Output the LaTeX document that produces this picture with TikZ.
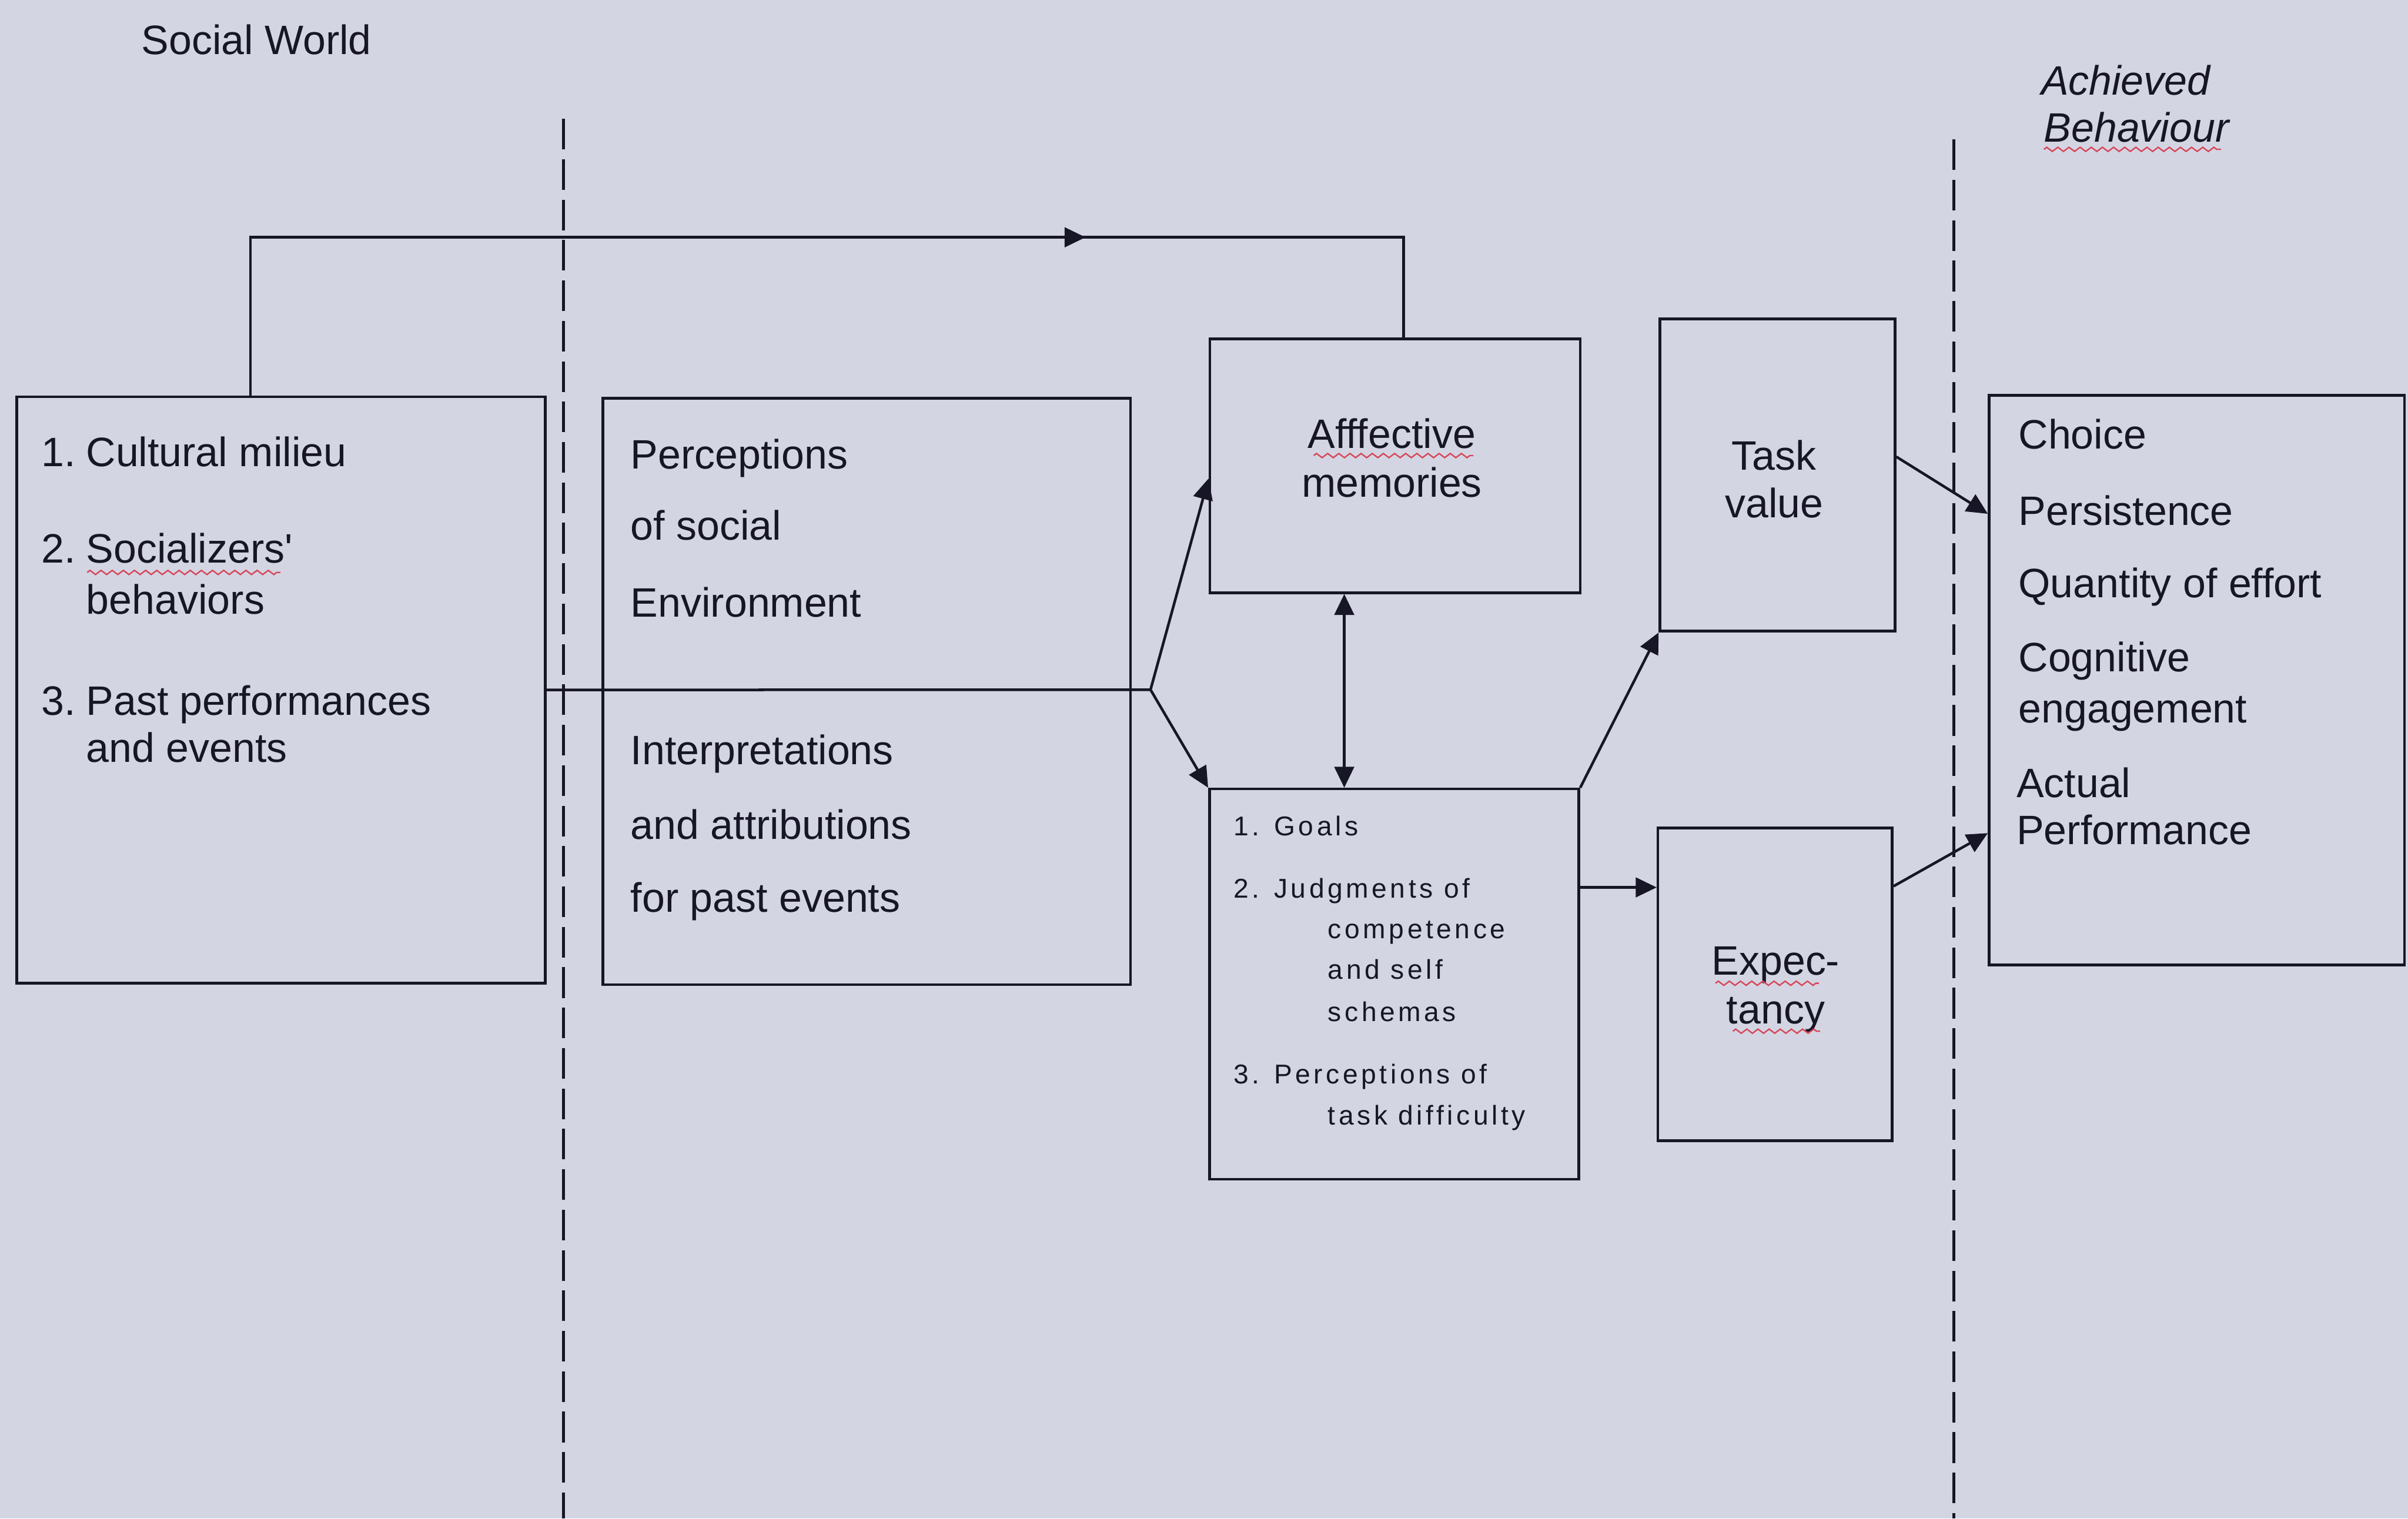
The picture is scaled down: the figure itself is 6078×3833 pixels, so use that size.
\documentclass[tikz,border=0pt]{standalone}
\usepackage{fontspec}
\setmainfont{Liberation Sans}
\usetikzlibrary{arrows.meta,calc,decorations.pathmorphing}
\definecolor{bg}{RGB}{212,213,226}
\definecolor{ink}{RGB}{22,22,38}
\definecolor{spellred}{RGB}{214,70,90}
\newcommand\numlbl[1]{\makebox[32pt][l]{#1}}
\newcommand\numlblD[1]{\makebox[29pt][l]{#1}}
\begin{document}
\begin{tikzpicture}[x=0.01cm,y=-0.01cm,
  box/.style={draw=ink, line width=1.9pt, rectangle, inner sep=0pt},
  conn/.style={draw=ink, line width=1.9pt},
  arr/.style={conn, -{Triangle[length=15pt,width=14pt]}},
  darr/.style={conn, {Triangle[length=15pt,width=14pt]}-{Triangle[length=15pt,width=14pt]}},
  divider/.style={draw=ink, line width=1.9pt, dash pattern=on 22pt off 7pt},
  lbl/.style={text=ink, inner sep=0pt, outer sep=0pt, anchor=base west, font=\fontsize{29.5}{35}\selectfont},
  lblc/.style={lbl, anchor=base},
  lbli/.style={lbl, font=\fontsize{29.5}{35}\selectfont\itshape},
  lbls/.style={lbl, font=\fontsize{19.5}{23}\selectfont\addfontfeature{LetterSpace=12}},
  spell/.style={draw=spellred, line width=1pt, decorate, decoration={zigzag, segment length=8pt, amplitude=1.5pt}}
]
% background / bounding box
\fill[bg] (0,0) rectangle (6078,3833);
\useasboundingbox (0,0) rectangle (6078,3833);

% dividers
\coordinate (d1t) at (1422,300);
\coordinate (d1b) at (1422,3833);
\coordinate (d2t) at (4932,352);
\coordinate (d2b) at (4932,3833);
\draw[divider] (d1t) -- (d1b);
\draw[divider] (d2t) -- (d2b);

% headings
\node[lbl] (hsw) at (357,138) {Social World};
\node[lbli] (hab1) at (5152,239) {Achieved};
\node[lbli] (hab2) at (5159,358) {Behaviour};

% boxes
\node[box, minimum width=13.33cm, minimum height=14.79cm] (A) at (709.5,1741.5) {};
\node[box, minimum width=13.31cm, minimum height=14.79cm] (B) at (2187.5,1745.5) {};
\node[box, minimum width=9.34cm, minimum height=6.40cm] (C) at (3521,1176) {};
\node[box, minimum width=9.32cm, minimum height=9.84cm] (D) at (3519,2484) {};
\node[box, minimum width=5.93cm, minimum height=7.88cm] (E) at (4486.5,1199) {};
\node[box, minimum width=5.91cm, minimum height=7.89cm] (F) at (4480.5,2484.5) {};
\node[box, minimum width=10.48cm, minimum height=14.37cm] (G) at (5545,1716.5) {};

% box A text
\node[lbl] (a1) at (105,1177) {\numlbl{1.}Cultural milieu};
\node[lbl] (a2) at (105,1421) {\numlbl{2.}Socializers\textquotesingle};
\node[lbl] (a3) at (218,1550) {behaviors};
\node[lbl] (a4) at (105,1805) {\numlbl{3.}Past performances};
\node[lbl] (a5) at (218,1924) {and events};

% box B text
\node[lbl] (b1) at (1592,1183) {Perceptions};
\node[lbl] (b2) at (1592,1363) {of social};
\node[lbl] (b3) at (1592,1557) {Environment};
\node[lbl] (b4) at (1592,1930) {Interpretations};
\node[lbl] (b5) at (1592,2118) {and attributions};
\node[lbl] (b6) at (1592,2302) {for past events};

% box C text
\node[lblc] (c1) at (3513,1131) {Afffective};
\node[lblc] (c2) at (3513,1254) {memories};

% box D text
\node[lbls] (d1) at (3114,2109) {\numlblD{1.}Goals};
\node[lbls] (d2) at (3114,2267) {\numlblD{2.}Judgments of};
\node[lbls] (d3) at (3352,2369) {competence};
\node[lbls] (d4) at (3352,2472) {and self};
\node[lbls] (d5) at (3352,2578) {schemas};
\node[lbls] (d6) at (3114,2736) {\numlblD{3.}Perceptions of};
\node[lbls] (d7) at (3352,2839) {task difficulty};

% box E text
\node[lblc] (e1) at (4478,1186) {Task};
\node[lblc] (e2) at (4478,1306) {value};

% box F text
\node[lblc] (f1) at (4482,2461) {Expec-};
\node[lblc] (f2) at (4482,2584) {tancy};

% box G text
\node[lbl] (g1) at (5095,1133) {Choice};
\node[lbl] (g2) at (5095,1326) {Persistence};
\node[lbl] (g3) at (5095,1508) {Quantity of effort};
\node[lbl] (g4) at (5095,1696) {Cognitive};
\node[lbl] (g5) at (5095,1825) {engagement};
\node[lbl] (g6) at (5090,2013) {Actual};
\node[lbl] (g7) at (5090,2131) {Performance};

% spell-check underlines
\draw[spell] (220,1445) -- (708,1445);
\draw[spell] (3316,1150) -- (3719,1150);
\draw[spell] (4330,2482) -- (4591,2482);
\draw[spell] (4374,2603) -- (4594,2603);
\draw[spell] (5159,377) -- (5606,377);

% connectors
\coordinate (br) at (2904,1741);
\draw[conn] (A.east) -- (br);
\draw[arr] (br) -- ($(C.west)+(0,32)$);
\draw[arr] (br) -- (D.north west);

\coordinate (tl) at (632,599);
\coordinate (tr) at (3543,599);
\coordinate (tm) at (2740,599);
\draw[conn] (A.north -| tl) -- (tl) -- (tr) -- (C.north -| tr);
\draw[arr] (tl) -- (tm);

\coordinate (dx) at (3393,0);
\draw[darr] (C.south -| dx) -- (D.north -| dx);

\draw[arr] (D.north east) -- (E.south west);
\coordinate (dfy) at (0,2240);
\draw[arr] (D.east |- dfy) -- (F.west |- dfy);

\coordinate (egs) at (0,1153);
\coordinate (ege) at (0,1297);
\draw[arr] (E.east |- egs) -- (G.west |- ege);
\coordinate (fgs) at (0,2237);
\coordinate (fge) at (0,2103);
\draw[arr] (F.east |- fgs) -- (G.west |- fge);
\end{tikzpicture}
\end{document}
